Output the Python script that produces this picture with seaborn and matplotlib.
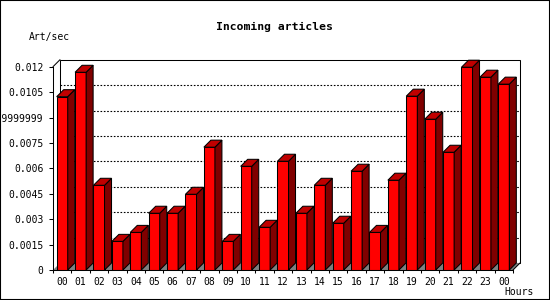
import numpy as np
import pandas as pd
import matplotlib
matplotlib.use("Agg")
import matplotlib.pyplot as plt
import seaborn as sns
from matplotlib.patches import Polygon, Rectangle
from matplotlib.lines import Line2D

# ---- data ----
hour_labels = ["00", "01", "02", "03", "04", "05", "06", "07", "08", "09",
               "10", "11", "12", "13", "14", "15", "16", "17", "18", "19",
               "20", "21", "22", "23", "00"]
rates = [0.01023, 0.01167, 0.00500, 0.00169, 0.00222, 0.00335, 0.00335,
         0.00447, 0.00725, 0.00169, 0.00612, 0.00252, 0.00642, 0.00335,
         0.00500, 0.00276, 0.00583, 0.00222, 0.00530, 0.01026, 0.00890,
         0.00695, 0.01197, 0.01138, 0.01097]
ytick_values = [0, 0.0015, 0.003, 0.0045, 0.006, 0.0075, 0.009, 0.0105, 0.012]
ytick_labels = ["0", "0.0015", "0.003", "0.0045", "0.006", "0.0075",
                "0.0089999999", "0.0105", "0.012"]
title = "Incoming articles"
ylabel = "Art/sec"
xlabel = "Hours"

sns.set_style("white")
plt.rcParams["font.family"] = ["DejaVu Sans Mono", "DejaVu Sans"]
plt.rcParams["text.color"] = "black"
plt.rcParams["xtick.color"] = "black"
plt.rcParams["ytick.color"] = "black"

W, H = 550, 300
fig = plt.figure(figsize=(W / 100, H / 100), dpi=100)
L, R, B, T = 53, 513, 270, 66.7
ax = fig.add_axes([L / W, 1 - B / H, (R - L) / W, (B - T) / H])
ax.set_facecolor("none")

df = pd.DataFrame({"slot": np.arange(len(rates)), "rate": rates})
sns.barplot(data=df, x="slot", y="rate", color="#ff0000", saturation=1,
            width=0.6, edgecolor="black", linewidth=0.75, ax=ax, zorder=3)

n = len(rates)
ax.set_xlim(-0.5, n - 0.5)
ax.set_ylim(0, ytick_values[-1])
ax.set_xlabel("")
ax.set_ylabel("")

# depth offset (7 px right, 7 px up) in data units
inv = ax.transData.inverted()
p0 = inv.transform((0, 0))
p1 = inv.transform((7, 7))
DX, DY = p1 - p0
x0a, x1a = -0.5, n - 0.5
ytop = ytick_values[-1]

# back plane
ax.add_patch(Rectangle((x0a + DX, DY), x1a - x0a, ytop, facecolor="white",
                       edgecolor="black", linewidth=0.75, zorder=1, clip_on=False))
# dotted gridlines on back plane
for v in ytick_values[1:-1]:
    ax.add_line(Line2D([x0a + DX, x1a + DX], [v + DY, v + DY], color="black",
                       linewidth=0.8, linestyle=(0, (1.5, 1.5)), zorder=1.5,
                       clip_on=False))
# floor
ax.add_patch(Polygon([(x0a, 0), (x1a, 0), (x1a + DX, DY), (x0a + DX, DY)],
                     closed=True, facecolor="#808080", edgecolor="none",
                     zorder=2, clip_on=False))
# diagonals of the frame
ax.add_line(Line2D([x0a, x0a + DX], [ytop, ytop + DY], color="black",
                   linewidth=0.75, zorder=4, clip_on=False))
ax.add_line(Line2D([x1a, x1a + DX], [0, DY], color="black",
                   linewidth=0.75, zorder=4, clip_on=False))

# 3D side and top faces of bars
for p in list(ax.patches):
    if not isinstance(p, Rectangle) or p.get_facecolor()[:3] != (1.0, 0.0, 0.0):
        continue
    bx0 = p.get_x()
    bx1 = bx0 + p.get_width()
    h = p.get_height()
    ax.add_patch(Polygon([(bx1, 0), (bx1 + DX, DY), (bx1 + DX, h + DY), (bx1, h)],
                         closed=True, facecolor="#800000", edgecolor="black",
                         linewidth=0.75, zorder=3, clip_on=False))
    ax.add_patch(Polygon([(bx0, h), (bx1, h), (bx1 + DX, h + DY), (bx0 + DX, h + DY)],
                         closed=True, facecolor="#c00000", edgecolor="black",
                         linewidth=0.75, zorder=3, clip_on=False))

# spines and ticks
for s in ["top", "right"]:
    ax.spines[s].set_visible(False)
for s in ["left", "bottom"]:
    ax.spines[s].set_color("black")
    ax.spines[s].set_linewidth(0.75)
    ax.spines[s].set_zorder(5)

ax.set_yticks(ytick_values, labels=ytick_labels)
ax.set_xticks(np.arange(n), labels=hour_labels)
ax.set_xticks(np.arange(n + 1) - 0.5, minor=True)
ax.tick_params(axis="y", which="major", left=True, length=3, width=0.75,
               color="black", pad=4, labelsize=7, labelcolor="black")
ax.tick_params(axis="x", which="major", bottom=True, length=0, pad=5,
               labelsize=7, labelcolor="black")
ax.tick_params(axis="x", which="minor", bottom=True, length=2.5, width=0.75,
               color="black")

# texts
fig.text(274 / W, 1 - 27 / H, title, ha="center", va="center",
         fontsize=8.2, fontweight="bold", color="black")
fig.text(29 / W, 1 - 37 / H, ylabel, ha="left", va="center", fontsize=7,
         color="black")
fig.text(534 / W, 1 - 292 / H, xlabel, ha="right", va="center", fontsize=7,
         color="black")

# outer border
fig.add_artist(Rectangle((0, 0), 1, 1, transform=fig.transFigure, fill=False,
                         edgecolor="black", linewidth=1.5))

fig.savefig("out.png", dpi=100)
